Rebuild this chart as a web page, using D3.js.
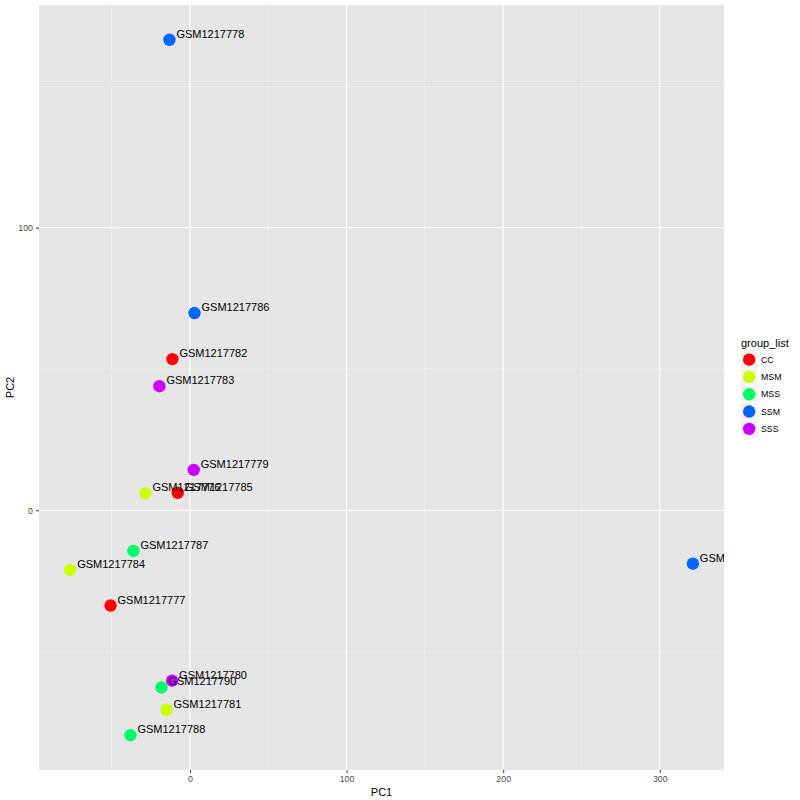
<!DOCTYPE html>
<html><head><meta charset="utf-8">
<script src="https://cdn.jsdelivr.net/npm/d3@7"></script>
<style>body{margin:0;background:#fff}svg{display:block;font-family:"Liberation Sans",Arial,Helvetica,sans-serif}</style>
</head><body><svg id="c" width="800" height="800"></svg>
<script>
const samples = ["GSM1217776","GSM1217777","GSM1217778","GSM1217779","GSM1217780","GSM1217781","GSM1217782","GSM1217783","GSM1217784","GSM1217785","GSM1217786","GSM1217787","GSM1217788","GSM1217789","GSM1217790"];
const groups  = ["MSM","CC","SSM","SSS","SSS","MSM","CC","SSS","MSM","CC","SSM","MSS","MSS","SSM","MSS"];
const pc1 = [-28.4,-50.7,-13.1,2.4,-11.4,-15.0,-11.2,-19.5,-76.5,-7.8,2.9,-36.1,-38.0,321.1,-18.2];
const pc2 = [6.0,-33.7,166.5,14.3,-60.3,-70.6,53.5,43.9,-21.1,6.2,69.8,-14.4,-79.6,-18.9,-62.7];
const groupLevels = ["CC","MSM","MSS","SSM","SSS"];
const groupColors = ["#FF0000","#CCFF00","#00FF66","#0066FF","#CC00FF"];
const xTicks = [0,100,200,300];
const yTicks = [0,100];
const xMinor = [-50,50,150,250];
const yMinor = [-50,50,150];

const svg = d3.select("#c");
const L=39,R=724,T=5,B=770;
const xe=d3.extent(pc1), ye=d3.extent(pc2);
const xp=(xe[1]-xe[0])*0.05, yp=(ye[1]-ye[0])*0.05;
const x=d3.scaleLinear().domain([xe[0]-xp,xe[1]+xp]).range([L,R]);
const y=d3.scaleLinear().domain([ye[0]-yp,ye[1]+yp]).range([B,T]);
const color=d3.scaleOrdinal().domain(groupLevels).range(groupColors);

svg.append("rect").attr("x",L).attr("y",T).attr("width",R-L).attr("height",B-T).attr("fill","#e5e5e5");
const g=svg.append("g");
g.selectAll(".xm").data(xMinor).join("line").attr("x1",d=>x(d)).attr("x2",d=>x(d)).attr("y1",T).attr("y2",B).attr("stroke","#f2f2f2").attr("stroke-width",0.55);
g.selectAll(".ym").data(yMinor).join("line").attr("y1",d=>y(d)).attr("y2",d=>y(d)).attr("x1",L).attr("x2",R).attr("stroke","#f2f2f2").attr("stroke-width",0.55);
g.selectAll(".xM").data(xTicks).join("line").attr("x1",d=>x(d)).attr("x2",d=>x(d)).attr("y1",T).attr("y2",B).attr("stroke","#fff").attr("stroke-width",1.1);
g.selectAll(".yM").data(yTicks).join("line").attr("y1",d=>y(d)).attr("y2",d=>y(d)).attr("x1",L).attr("x2",R).attr("stroke","#fff").attr("stroke-width",1.1);

svg.append("defs").append("clipPath").attr("id","clip").append("rect").attr("x",L).attr("y",T).attr("width",R-L).attr("height",B-T);
const data=samples.map((s,i)=>({s,g:groups[i],x:pc1[i],y:pc2[i]}));
const pg=svg.append("g").attr("clip-path","url(#clip)");
pg.selectAll("circle").data(data).join("circle").attr("cx",d=>x(d.x)).attr("cy",d=>y(d.y)).attr("r",6.2).attr("fill",d=>color(d.g));
pg.selectAll("text").data(data).join("text").attr("x",d=>x(d.x)+7).attr("y",d=>y(d.y)-2).attr("font-size",11).attr("fill","#000").text(d=>d.s);

// axes
const xa=svg.append("g").attr("transform",`translate(0,${B})`).call(d3.axisBottom(x).tickValues(xTicks).tickSize(3).tickPadding(3).tickFormat(d3.format("d")));
const ya=svg.append("g").attr("transform",`translate(${L},0)`).call(d3.axisLeft(y).tickValues(yTicks).tickSize(3).tickPadding(3).tickFormat(d3.format("d")));
[xa,ya].forEach(a=>{a.select(".domain").remove();a.selectAll("line").attr("stroke","#333").attr("stroke-width",1);a.selectAll("text").attr("fill","#4d4d4d").attr("font-size",8.8).attr("font-family","Liberation Sans, Arial, sans-serif");});
svg.append("text").attr("x",(L+R)/2).attr("y",796).attr("text-anchor","middle").attr("font-size",11).text("PC1");
svg.append("text").attr("transform",`translate(14,${(T+B)/2}) rotate(-90)`).attr("text-anchor","middle").attr("font-size",11).text("PC2");

// legend
const lg=svg.append("g");
lg.append("text").attr("x",741).attr("y",347).attr("font-size",11).text("group_list");
const ks=17.3, k0=351;
groupLevels.forEach((lv,i)=>{
  const yy=k0+i*ks;
  lg.append("rect").attr("x",740.5).attr("y",yy).attr("width",ks).attr("height",ks).attr("fill","#f2f2f2").attr("stroke","#fff").attr("stroke-width",0.8);
  lg.append("circle").attr("cx",740.5+ks/2).attr("cy",yy+ks/2).attr("r",6.2).attr("fill",color(lv));
  lg.append("text").attr("x",761).attr("y",yy+ks/2+3.2).attr("font-size",8.8).attr("fill","#000").text(lv);
});
</script></body></html>
